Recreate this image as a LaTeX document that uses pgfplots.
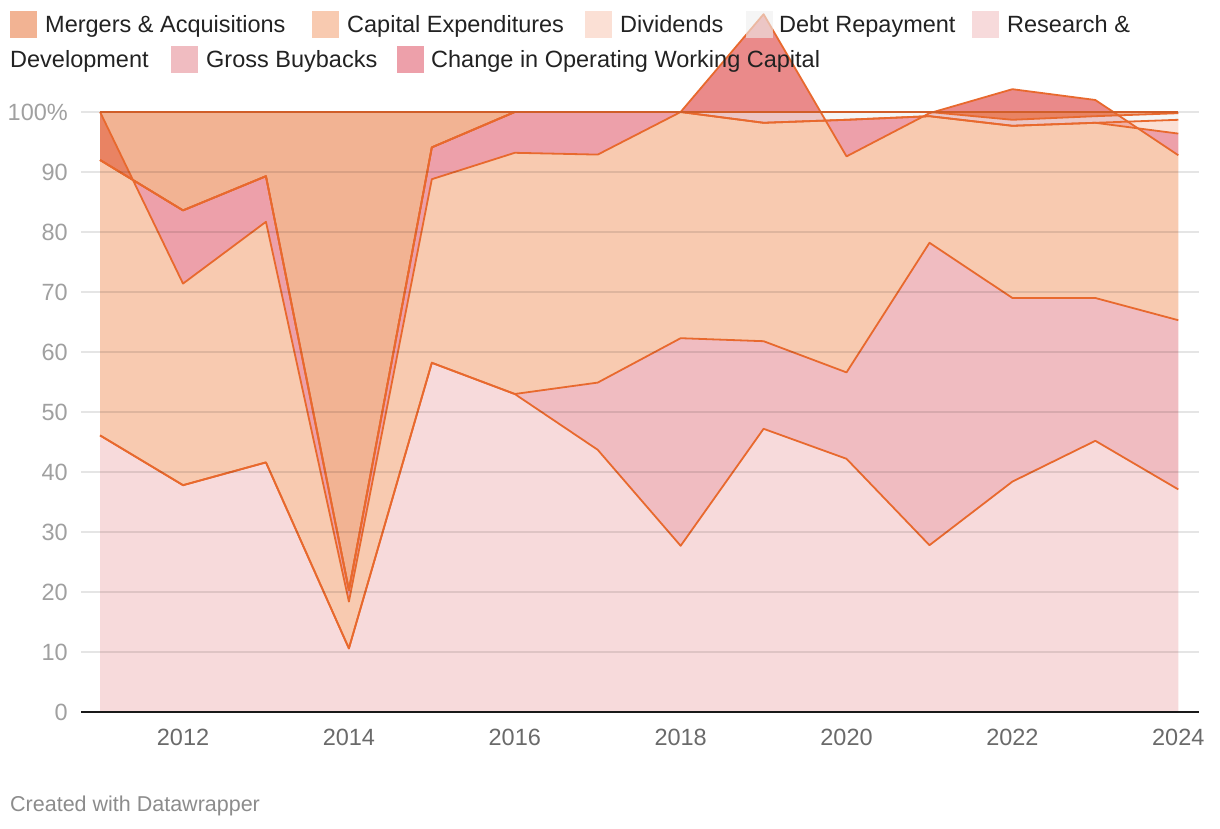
\documentclass[border=0pt]{standalone}
\usepackage{fontspec}
\setmainfont{Liberation Sans}
\usepackage{pgfplots}
\pgfplotsset{compat=1.18}
\usepackage{pgfplotstable}
\usepgfplotslibrary{fillbetween}

\definecolor{lineor}{HTML}{E8692E}
\definecolor{cRD}{RGB}{242,193,195}
\definecolor{cBB}{RGB}{230,143,152}
\definecolor{cCX}{RGB}{243,167,123}
\definecolor{cOW}{RGB}{225,97,113}
\definecolor{cDV}{RGB}{248,203,185}
\definecolor{cDR}{RGB}{238,238,238}
\definecolor{cMA}{RGB}{233,128,75}
\definecolor{legtext}{HTML}{222222}
\definecolor{ytext}{HTML}{A0A0A0}
\definecolor{xtext}{HTML}{6A6A6A}
\definecolor{foot}{HTML}{8C8C8C}

% cumulative boundaries: B1 R&D, B2 +Gross Buybacks, B3 +Capex, B4 +Change in OWC, B5 +Dividends, B6 +Debt Repayment, B7 +M&A
\pgfplotstableread{
year B0 B1 B2 B3 B4 B5 B6 B7
2011 0 46.1 46.1 100.0 92.0 92.0 92.0 100
2012 0 37.8 37.8 71.4 83.6 83.6 83.6 100
2013 0 41.6 41.6 81.7 89.3 89.3 89.3 100
2014 0 10.6 10.6 18.4 20.3 20.3 20.3 100
2015 0 58.2 58.2 88.8 94.1 94.1 94.1 100
2016 0 53.0 53.0 93.2 100 100 100 100
2017 0 43.7 54.9 92.9 100 100 100 100
2018 0 27.7 62.3 100.0 100 100 100 100
2019 0 47.2 61.8 116.3 98.2 98.2 100 100
2020 0 42.2 56.6 92.6 98.7 98.7 100 100
2021 0 27.8 78.2 99.8 99.3 99.3 100 100
2022 0 38.4 69.0 103.8 97.7 97.7 98.7 100
2023 0 45.2 69.0 102.0 98.2 98.2 99.3 100
2024 0 37.1 65.3 92.8 96.4 98.7 99.8 100
}\data

\begin{document}
\begin{tikzpicture}
\path (0pt,0pt) rectangle (1220pt,828pt);
\node[anchor=base west, inner sep=0pt, font=\fontsize{21.5}{26}\selectfont, text=foot] at (10pt,16.5pt) {Created with Datawrapper};

\begin{axis}[
  at={(81pt,116pt)}, anchor=south west,
  scale only axis, width=1118pt, height=600pt,
  xmin=2010.77, xmax=2024.25, ymin=0, ymax=100,
  clip=false, axis on top,
  axis x line*=bottom, axis y line*=left,
  x axis line style={draw=black!90, line width=2.5pt, -},
  y axis line style={draw=none},
  ymajorgrids, major grid style={draw=black, opacity=0.1, line width=1.5pt},
  major tick length=0pt, tick style={draw=none},
  xtick={2012,2014,2016,2018,2020,2022,2024},
  xticklabels={2012,2014,2016,2018,2020,2022,2024},
  ytick={0,10,20,30,40,50,60,70,80,90,100},
  yticklabels={0,10,20,30,40,50,60,70,80,90,100\%},
  tick label style={font=\fontsize{23.5}{28}\selectfont, inner sep=0pt},
  xticklabel style={text=xtext, anchor=north, yshift=-17pt},
  yticklabel style={text=ytext, anchor=east, xshift=-13pt},
]
\addplot[draw=none, name path=B0] table[x=year,y=B0]{\data};
\addplot[draw=none, name path=B1] table[x=year,y=B1]{\data};
\addplot[draw=none, name path=B2] table[x=year,y=B2]{\data};
\addplot[draw=none, name path=B3] table[x=year,y=B3]{\data};
\addplot[draw=none, name path=B4] table[x=year,y=B4]{\data};
\addplot[draw=none, name path=B5] table[x=year,y=B5]{\data};
\addplot[draw=none, name path=B6] table[x=year,y=B6]{\data};
\addplot[draw=none, name path=B7] table[x=year,y=B7]{\data};

\addplot[fill=cRD, fill opacity=0.6, draw=none] fill between[of=B1 and B0];
\addplot[fill=cBB, fill opacity=0.6, draw=none] fill between[of=B2 and B1];
\addplot[fill=cCX, fill opacity=0.6, draw=none] fill between[of=B3 and B2];
\addplot[fill=cOW, fill opacity=0.6, draw=none] fill between[of=B4 and B3];
\addplot[fill=cDV, fill opacity=0.6, draw=none] fill between[of=B5 and B4];
\addplot[fill=cDR, fill opacity=0.6, draw=none] fill between[of=B6 and B5];
\addplot[fill=cMA, fill opacity=0.6, draw=none] fill between[of=B7 and B6];

\addplot[lineor, line width=1.8pt, line join=round] table[x=year,y=B1]{\data};
\addplot[lineor, line width=1.8pt, line join=round] table[x=year,y=B2]{\data};
\addplot[lineor, line width=1.8pt, line join=round] table[x=year,y=B3]{\data};
\addplot[lineor, line width=1.8pt, line join=round] table[x=year,y=B4]{\data};
\addplot[lineor, line width=1.8pt, line join=round] table[x=year,y=B5]{\data};
\addplot[lineor, line width=1.8pt, line join=round] table[x=year,y=B6]{\data};
\addplot[lineor, line width=1.8pt, line join=round] table[x=year,y=B7]{\data};
\end{axis}

% legend (drawn on top, translucent swatches as in the reference)
\begin{scope}[every node/.style={font=\fontsize{23.5}{28}\selectfont, text=legtext, inner sep=0pt, anchor=base west}]
\fill[cMA, fill opacity=0.6] (10pt,790pt) rectangle (37pt,817pt);
\node at (45pt,795pt) {Mergers \& Acquisitions};
\fill[cCX, fill opacity=0.6] (312pt,790pt) rectangle (339pt,817pt);
\node at (347pt,795pt) {Capital Expenditures};
\fill[cDV, fill opacity=0.6] (585pt,790pt) rectangle (612pt,817pt);
\node at (620pt,795pt) {Dividends};
\fill[cDR, fill opacity=0.6] (746pt,790pt) rectangle (773pt,817pt);
\node at (779pt,795pt) {Debt Repayment};
\fill[cRD, fill opacity=0.6] (972pt,790pt) rectangle (999pt,817pt);
\node at (1007pt,795pt) {Research \&};
\node at (10pt,760pt) {Development};
\fill[cBB, fill opacity=0.6] (171pt,755pt) rectangle (198pt,782pt);
\node at (206pt,760pt) {Gross Buybacks};
\fill[cOW, fill opacity=0.6] (397pt,755pt) rectangle (424pt,782pt);
\node at (431pt,760pt) {Change in Operating Working Capital};
\end{scope}
\end{tikzpicture}
\end{document}
